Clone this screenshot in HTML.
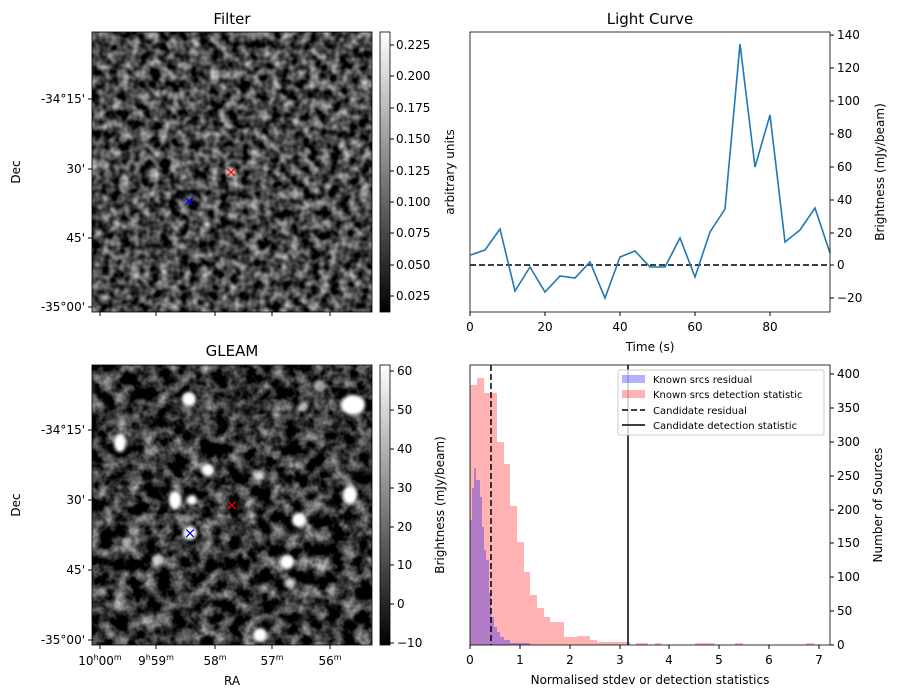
<!DOCTYPE html>
<html><head><meta charset="utf-8"><style>
body{margin:0;background:#fff}
svg{display:block;font-family:"DejaVu Sans","Liberation Sans",sans-serif}
</style></head><body>
<svg width="898" height="699" viewBox="0 0 898 699" xmlns="http://www.w3.org/2000/svg">
<defs>
<filter id="noise1" x="0" y="0" width="100%" height="100%" color-interpolation-filters="sRGB">
<feTurbulence type="fractalNoise" baseFrequency="0.1" numOctaves="2" seed="3"/>
<feColorMatrix type="matrix" values="1.3 0 0 0 -0.37  1.3 0 0 0 -0.37  1.3 0 0 0 -0.37  0 0 0 0 1"/>
</filter>
<filter id="noise2" x="0" y="0" width="100%" height="100%" color-interpolation-filters="sRGB">
<feTurbulence type="fractalNoise" baseFrequency="0.07" numOctaves="3" seed="7"/>
<feColorMatrix type="matrix" values="1.4 0 0 0 -0.5  1.4 0 0 0 -0.5  1.4 0 0 0 -0.5  0 0 0 0 1"/>
</filter>
<filter id="blur"><feGaussianBlur stdDeviation="1.5"/></filter>
<linearGradient id="gray" x1="0" y1="1" x2="0" y2="0"><stop offset="0" stop-color="#000"/><stop offset="1" stop-color="#fff"/></linearGradient>
<clipPath id="c1"><rect x="92" y="32" width="280" height="280"/></clipPath>
<clipPath id="c2"><rect x="92" y="365" width="280" height="280"/></clipPath>
</defs>

<!-- Filter image -->
<g clip-path="url(#c1)">
<rect x="92" y="32" width="280" height="280" fill="#333" filter="url(#noise1)"/>
<circle cx="231" cy="172" r="5" fill="#ccc" filter="url(#blur)"/>
</g>
<rect x="92" y="32" width="280" height="280" fill="none" stroke="#000" stroke-width="0.8"/>
<text x="231" y="172" fill="red" font-size="15" text-anchor="middle" dominant-baseline="central">×</text>
<text x="189" y="201" fill="blue" font-size="15" text-anchor="middle" dominant-baseline="central">×</text>
<text x="232" y="24" font-size="15" text-anchor="middle">Filter</text>
<g font-size="12" text-anchor="end">
<text x="85" y="103">-34°15'</text><text x="85" y="173">30'</text><text x="85" y="242">45'</text><text x="85" y="311">-35°00'</text>
</g>
<g stroke="#000"><line x1="88" y1="99" x2="92" y2="99"/><line x1="88" y1="169" x2="92" y2="169"/><line x1="88" y1="238" x2="92" y2="238"/><line x1="88" y1="307" x2="92" y2="307"/>
<line x1="100" y1="312" x2="100" y2="316"/><line x1="156" y1="312" x2="156" y2="316"/><line x1="215" y1="312" x2="215" y2="316"/><line x1="272" y1="312" x2="272" y2="316"/><line x1="330" y1="312" x2="330" y2="316"/></g>
<text x="20" y="172" font-size="12" text-anchor="middle" transform="rotate(-90 20 172)">Dec</text>
<rect x="380" y="32" width="10" height="280" fill="url(#gray)" stroke="#000" stroke-width="0.8"/>
<g font-size="12">
<text x="396" y="49">0.225</text><text x="396" y="80">0.200</text><text x="396" y="112">0.175</text><text x="396" y="143">0.150</text><text x="396" y="175">0.125</text><text x="396" y="206">0.100</text><text x="396" y="237">0.075</text><text x="396" y="269">0.050</text><text x="396" y="300">0.025</text>
</g>
<g stroke="#000"><line x1="390" y1="45" x2="394" y2="45"/><line x1="390" y1="76" x2="394" y2="76"/><line x1="390" y1="108" x2="394" y2="108"/><line x1="390" y1="139" x2="394" y2="139"/><line x1="390" y1="171" x2="394" y2="171"/><line x1="390" y1="202" x2="394" y2="202"/><line x1="390" y1="233" x2="394" y2="233"/><line x1="390" y1="265" x2="394" y2="265"/><line x1="390" y1="296" x2="394" y2="296"/></g>
<text x="454" y="172" font-size="12" text-anchor="middle" transform="rotate(-90 454 172)">arbitrary units</text>

<!-- GLEAM image -->
<g clip-path="url(#c2)">
<rect x="92" y="365" width="280" height="280" fill="#222" filter="url(#noise2)"/>
<g fill="#fff" filter="url(#blur)">
<circle cx="189" cy="399" r="7"/><ellipse cx="353" cy="405" rx="12" ry="10"/><ellipse cx="120" cy="443" rx="6" ry="9"/>
<circle cx="208" cy="470" r="6"/><ellipse cx="350" cy="495" rx="7" ry="9"/><ellipse cx="175" cy="500" rx="6" ry="9"/>
<circle cx="192" cy="500" r="5"/><circle cx="190" cy="533" r="7"/><circle cx="299" cy="520" r="7"/>
<circle cx="287" cy="562" r="7"/><circle cx="290" cy="583" r="5" opacity="0.7"/><circle cx="158" cy="560" r="6" opacity="0.7"/>
<circle cx="260" cy="635" r="7"/><circle cx="127" cy="542" r="5" opacity="0.6"/><circle cx="258" cy="475" r="5" opacity="0.6"/>
<circle cx="320" cy="386" r="6" opacity="0.6"/><circle cx="303" cy="407" r="5" opacity="0.6"/></g>
</g>
<rect x="92" y="365" width="280" height="280" fill="none" stroke="#000" stroke-width="0.8"/>
<text x="232" y="505" fill="red" font-size="15" text-anchor="middle" dominant-baseline="central">×</text>
<text x="190" y="533" fill="blue" font-size="15" text-anchor="middle" dominant-baseline="central">×</text>
<text x="232" y="356" font-size="15" text-anchor="middle">GLEAM</text>
<g font-size="12" text-anchor="end">
<text x="85" y="434">-34°15'</text><text x="85" y="504">30'</text><text x="85" y="574">45'</text><text x="85" y="644">-35°00'</text>
</g>
<g stroke="#000"><line x1="88" y1="430" x2="92" y2="430"/><line x1="88" y1="500" x2="92" y2="500"/><line x1="88" y1="570" x2="92" y2="570"/><line x1="88" y1="640" x2="92" y2="640"/>
<line x1="100" y1="645" x2="100" y2="649"/><line x1="156" y1="645" x2="156" y2="649"/><line x1="215" y1="645" x2="215" y2="649"/><line x1="272" y1="645" x2="272" y2="649"/><line x1="330" y1="645" x2="330" y2="649"/></g>
<g font-size="12" text-anchor="middle">
<text x="100" y="665">10<tspan font-size="8" dy="-5">h</tspan><tspan dy="5">00</tspan><tspan font-size="8" dy="-5">m</tspan></text>
<text x="156" y="665">9<tspan font-size="8" dy="-5">h</tspan><tspan dy="5">59</tspan><tspan font-size="8" dy="-5">m</tspan></text>
<text x="215" y="665">58<tspan font-size="8" dy="-5">m</tspan></text>
<text x="272" y="665">57<tspan font-size="8" dy="-5">m</tspan></text>
<text x="330" y="665">56<tspan font-size="8" dy="-5">m</tspan></text>
<text x="232" y="685">RA</text>
</g>
<text x="20" y="505" font-size="12" text-anchor="middle" transform="rotate(-90 20 505)">Dec</text>
<rect x="380" y="365" width="10" height="280" fill="url(#gray)" stroke="#000" stroke-width="0.8"/>
<g font-size="12">
<text x="397" y="375">60</text><text x="397" y="414">50</text><text x="397" y="453">40</text><text x="397" y="492">30</text><text x="397" y="531">20</text><text x="397" y="569">10</text><text x="397" y="608">0</text><text x="397" y="647">−10</text>
</g>
<g stroke="#000"><line x1="390" y1="371" x2="394" y2="371"/><line x1="390" y1="410" x2="394" y2="410"/><line x1="390" y1="449" x2="394" y2="449"/><line x1="390" y1="488" x2="394" y2="488"/><line x1="390" y1="527" x2="394" y2="527"/><line x1="390" y1="565" x2="394" y2="565"/><line x1="390" y1="604" x2="394" y2="604"/><line x1="390" y1="643" x2="394" y2="643"/></g>
<text x="444" y="505" font-size="12" text-anchor="middle" transform="rotate(-90 444 505)">Brightness (mJy/beam)</text>

<!-- Light curve -->
<text x="650" y="24" font-size="15" text-anchor="middle">Light Curve</text>
<line x1="470" y1="265" x2="830" y2="265" stroke="#000" stroke-width="1.5" stroke-dasharray="6,3"/>
<polyline fill="none" stroke="#1f77b4" stroke-width="1.6" points="470.7,255 485,250 500,229 515,291 530,267 545,292 560,276 575,278 590,262 605,298 620,257 635,251 650,267 665,267 680,238 695,277 710,232 725,209 740,44 755,167 770,115 785,242 800,230 815,208 830,253"/>
<rect x="470" y="32" width="360" height="280" fill="none" stroke="#000" stroke-width="0.8"/>
<g stroke="#000">
<line x1="470" y1="312" x2="470" y2="316"/><line x1="545" y1="312" x2="545" y2="316"/><line x1="620" y1="312" x2="620" y2="316"/><line x1="695" y1="312" x2="695" y2="316"/><line x1="770" y1="312" x2="770" y2="316"/>
<line x1="830" y1="35" x2="834" y2="35"/><line x1="830" y1="68" x2="834" y2="68"/><line x1="830" y1="101" x2="834" y2="101"/><line x1="830" y1="134" x2="834" y2="134"/><line x1="830" y1="167" x2="834" y2="167"/><line x1="830" y1="200" x2="834" y2="200"/><line x1="830" y1="233" x2="834" y2="233"/><line x1="830" y1="265" x2="834" y2="265"/><line x1="830" y1="298" x2="834" y2="298"/>
</g>
<g font-size="12" text-anchor="middle"><text x="470" y="331">0</text><text x="545" y="331">20</text><text x="620" y="331">40</text><text x="695" y="331">60</text><text x="770" y="331">80</text><text x="650" y="351">Time (s)</text></g>
<g font-size="12"><text x="837" y="39">140</text><text x="837" y="72">120</text><text x="837" y="105">100</text><text x="837" y="138">80</text><text x="837" y="171">60</text><text x="837" y="204">40</text><text x="837" y="237">20</text><text x="837" y="269">0</text><text x="837" y="302">−20</text></g>
<text x="884" y="172" font-size="12" text-anchor="middle" transform="rotate(-90 884 172)">Brightness (mJy/beam)</text>

<!-- Histogram -->
<g fill="#ff0000" fill-opacity="0.3">
<path d="M470,645 V385 H477 V378 H484 V393 H497 V442 H504 V464 H510 V506 H517 V542 H524 V572 H530 V595 H537 V608 H544 V617 H550 V622 H564 V637 H577 V636 H590 V640 H597 V642 H630 V645 Z"/>
<rect x="636" y="643" width="12" height="2"/><rect x="655" y="643" width="6" height="2"/><rect x="695" y="643" width="20" height="2"/><rect x="735" y="643" width="8" height="2"/><rect x="806" y="643" width="8" height="2"/>
</g>
<g fill="#0000ff" fill-opacity="0.3">
<path d="M470,645 V520 H472 V488 H474 V468 H476 V480 H480 V497 H482 V527 H484 V550 H486 V560 H489 V593 H491 V617 H494 V627 H497 V632 H500 V637 H504 V640 H510 V643 H530 V645 Z"/>
</g>
<line x1="491" y1="365" x2="491" y2="645" stroke="#000" stroke-width="1.5" stroke-dasharray="6,3"/>
<line x1="628" y1="365" x2="628" y2="645" stroke="#000" stroke-width="1.5"/>
<rect x="470" y="365" width="360" height="280" fill="none" stroke="#000" stroke-width="0.8"/>
<g stroke="#000">
<line x1="470" y1="645" x2="470" y2="649"/><line x1="520" y1="645" x2="520" y2="649"/><line x1="570" y1="645" x2="570" y2="649"/><line x1="620" y1="645" x2="620" y2="649"/><line x1="669" y1="645" x2="669" y2="649"/><line x1="719" y1="645" x2="719" y2="649"/><line x1="769" y1="645" x2="769" y2="649"/><line x1="819" y1="645" x2="819" y2="649"/>
<line x1="830" y1="374" x2="834" y2="374"/><line x1="830" y1="408" x2="834" y2="408"/><line x1="830" y1="442" x2="834" y2="442"/><line x1="830" y1="476" x2="834" y2="476"/><line x1="830" y1="510" x2="834" y2="510"/><line x1="830" y1="543" x2="834" y2="543"/><line x1="830" y1="577" x2="834" y2="577"/><line x1="830" y1="611" x2="834" y2="611"/><line x1="830" y1="645" x2="834" y2="645"/>
</g>
<g font-size="12" text-anchor="middle"><text x="470" y="664">0</text><text x="520" y="664">1</text><text x="570" y="664">2</text><text x="620" y="664">3</text><text x="669" y="664">4</text><text x="719" y="664">5</text><text x="769" y="664">6</text><text x="819" y="664">7</text><text x="650" y="684">Normalised stdev or detection statistics</text></g>
<g font-size="12"><text x="837" y="378">400</text><text x="837" y="412">350</text><text x="837" y="446">300</text><text x="837" y="480">250</text><text x="837" y="514">200</text><text x="837" y="547">150</text><text x="837" y="581">100</text><text x="837" y="615">50</text><text x="837" y="649">0</text></g>
<text x="882" y="505" font-size="12" text-anchor="middle" transform="rotate(-90 882 505)">Number of Sources</text>
<rect x="618" y="370" width="206" height="65" fill="#fff" fill-opacity="0.8" stroke="#ccc" rx="2"/>
<rect x="622" y="375" width="23" height="8" fill="#0000ff" fill-opacity="0.3"/>
<rect x="622" y="390" width="23" height="8" fill="#ff0000" fill-opacity="0.3"/>
<line x1="622" y1="410" x2="645" y2="410" stroke="#000" stroke-width="1.5" stroke-dasharray="6,3"/>
<line x1="622" y1="425" x2="645" y2="425" stroke="#000" stroke-width="1.5"/>
<g font-size="10"><text x="653" y="383">Known srcs residual</text><text x="653" y="398">Known srcs detection statistic</text><text x="653" y="414">Candidate residual</text><text x="653" y="429">Candidate detection statistic</text></g>
</svg>
</body></html>
